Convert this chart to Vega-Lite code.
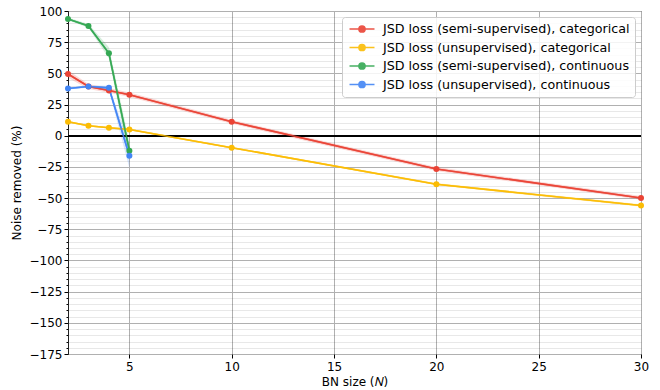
{
  "$schema": "https://vega.github.io/schema/vega-lite/v6.json",
  "width": 573,
  "height": 343,
  "autosize": "none",
  "padding": {"left": 68, "top": 11, "right": 19, "bottom": 36},
  "background": "white",
  "config": {
    "font": "DejaVu Sans",
    "view": {"stroke": "#222", "strokeWidth": 1},
    "axis": {"labelFont": "DejaVu Sans", "titleFont": "DejaVu Sans", "labelFontSize": 12, "titleFontSize": 12, "titleFontWeight": "normal", "labelColor": "#000", "titleColor": "#000", "tickColor": "#000", "domainColor": "#222"}
  },
  "data": {"values": [
    {"s": "JSD loss (semi-supervised), categorical", "n": 2, "v": 49.5, "lo": 46.5, "hi": 52.5},
    {"s": "JSD loss (semi-supervised), categorical", "n": 3, "v": 39.5, "lo": 37.5, "hi": 41.5},
    {"s": "JSD loss (semi-supervised), categorical", "n": 4, "v": 36.3, "lo": 34.5, "hi": 38.2},
    {"s": "JSD loss (semi-supervised), categorical", "n": 5, "v": 32.8, "lo": 31, "hi": 34.6},
    {"s": "JSD loss (semi-supervised), categorical", "n": 10, "v": 11.2, "lo": 9.6, "hi": 12.8},
    {"s": "JSD loss (semi-supervised), categorical", "n": 20, "v": -26.7, "lo": -28.3, "hi": -25.1},
    {"s": "JSD loss (semi-supervised), categorical", "n": 30, "v": -49.9, "lo": -51.4, "hi": -48.4},
    {"s": "JSD loss (unsupervised), categorical", "n": 2, "v": 11.2, "lo": 10.4, "hi": 12},
    {"s": "JSD loss (unsupervised), categorical", "n": 3, "v": 8, "lo": 7.3, "hi": 8.7},
    {"s": "JSD loss (unsupervised), categorical", "n": 4, "v": 6.4, "lo": 5.7, "hi": 7.1},
    {"s": "JSD loss (unsupervised), categorical", "n": 5, "v": 5, "lo": 4.3, "hi": 5.7},
    {"s": "JSD loss (unsupervised), categorical", "n": 10, "v": -9.6, "lo": -10.3, "hi": -8.9},
    {"s": "JSD loss (unsupervised), categorical", "n": 20, "v": -38.9, "lo": -39.8, "hi": -38},
    {"s": "JSD loss (unsupervised), categorical", "n": 30, "v": -56, "lo": -57, "hi": -55},
    {"s": "JSD loss (semi-supervised), continuous", "n": 2, "v": 93.6, "lo": 92.5, "hi": 94.7},
    {"s": "JSD loss (semi-supervised), continuous", "n": 3, "v": 88, "lo": 86.5, "hi": 89.5},
    {"s": "JSD loss (semi-supervised), continuous", "n": 4, "v": 66.1, "lo": 62, "hi": 71},
    {"s": "JSD loss (semi-supervised), continuous", "n": 5, "v": -12, "lo": -20, "hi": -5},
    {"s": "JSD loss (unsupervised), continuous", "n": 2, "v": 37.9, "lo": 37, "hi": 38.8},
    {"s": "JSD loss (unsupervised), continuous", "n": 3, "v": 39.5, "lo": 38.5, "hi": 40.5},
    {"s": "JSD loss (unsupervised), continuous", "n": 4, "v": 38.4, "lo": 36.5, "hi": 40},
    {"s": "JSD loss (unsupervised), continuous", "n": 5, "v": -16, "lo": -26, "hi": -7}
  ]},
  "encoding": {
    "color": {"field": "s", "type": "nominal",
      "scale": {"domain": ["JSD loss (semi-supervised), categorical", "JSD loss (unsupervised), categorical", "JSD loss (semi-supervised), continuous", "JSD loss (unsupervised), continuous"], "range": ["#EA4335", "#FBBC04", "#34A853", "#4285F4"]},
      "legend": {"title": null, "orient": "none", "legendX": 274, "legendY": 6,
        "labelFont": "DejaVu Sans", "labelFontSize": 12.7, "labelColor": "#000", "labelLimit": 0,
        "symbolType": "M-2,0H2M0.5,0A0.5,0.5,0,1,1,-0.5,0A0.5,0.5,0,1,1,0.5,0Z",
        "symbolSize": 156, "symbolStrokeWidth": 1.5, "symbolOpacity": 0.9, "symbolOffset": 8,
        "rowPadding": 4.5, "padding": 5, "strokeColor": "#cccccc", "fillColor": "rgba(255,255,255,0.85)", "cornerRadius": 3, "labelOffset": 14,
        "encode": {"symbols": {"update": {"stroke": {"scale": "color", "field": "value"}, "fill": {"scale": "color", "field": "value"}}}}}
    }
  },
  "layer": [
    {
      "mark": {"type": "area", "opacity": 0.2},
      "encoding": {
        "x": {"field": "n", "type": "quantitative", "scale": {"domain": [2, 30], "nice": false, "zero": false},
          "axis": {"values": [5, 10, 15, 20, 25, 30], "title": "BN size (𝑁)", "grid": true, "gridColor": "#b0b0b0", "gridWidth": 1, "tickSize": 4, "labelPadding": 3, "titlePadding": 4, "domain": false, "labelFlush": false}},
        "y": {"field": "lo", "type": "quantitative", "scale": {"domain": [-175, 100], "nice": false},
          "axis": {"orient": "left", "values": [95,90,85,80,70,65,60,55,45,40,35,30,20,15,10,5,-5,-10,-15,-20,-30,-35,-40,-45,-55,-60,-65,-70,-80,-85,-90,-95,-105,-110,-115,-120,-130,-135,-140,-145,-155,-160,-165,-170], "labels": false, "title": null, "domain": false, "tickSize": 2, "grid": true, "gridColor": "#000", "gridOpacity": 0.09, "gridWidth": 1}},
        "y2": {"field": "hi"}
      }
    },
    {
      "mark": {"type": "line", "strokeWidth": 1.6, "opacity": 0.85},
      "encoding": {
        "x": {"field": "n", "type": "quantitative"},
        "y": {"field": "v", "type": "quantitative", "title": "Noise removed (%)",
          "axis": {"orient": "left", "values": [100, 75, 50, 25, 0, -25, -50, -75, -100, -125, -150, -175], "labelExpr": "replace(datum.label, '-', '−')", "grid": true, "gridColor": "#b0b0b0", "gridWidth": 1, "tickSize": 4, "labelPadding": 2, "titlePadding": 6, "domain": true, "domainColor": "#222"}}
      }
    },
    {
      "mark": {"type": "rule", "color": "#000", "strokeWidth": 1.3},
      "encoding": {"y": {"datum": 0, "type": "quantitative", "axis": null}, "color": {"value": "#000"}}
    },
    {
      "mark": {"type": "line", "strokeWidth": 1.6, "opacity": 0.85},
      "encoding": {
        "x": {"field": "n", "type": "quantitative"},
        "y": {"field": "v", "type": "quantitative", "axis": null}
      }
    },
    {
      "mark": {"type": "point", "filled": true, "size": 36, "opacity": 1},
      "encoding": {
        "x": {"field": "n", "type": "quantitative"},
        "y": {"field": "v", "type": "quantitative", "axis": null}
      }
    }
  ],
  "resolve": {"axis": {"y": "independent"}}
}
